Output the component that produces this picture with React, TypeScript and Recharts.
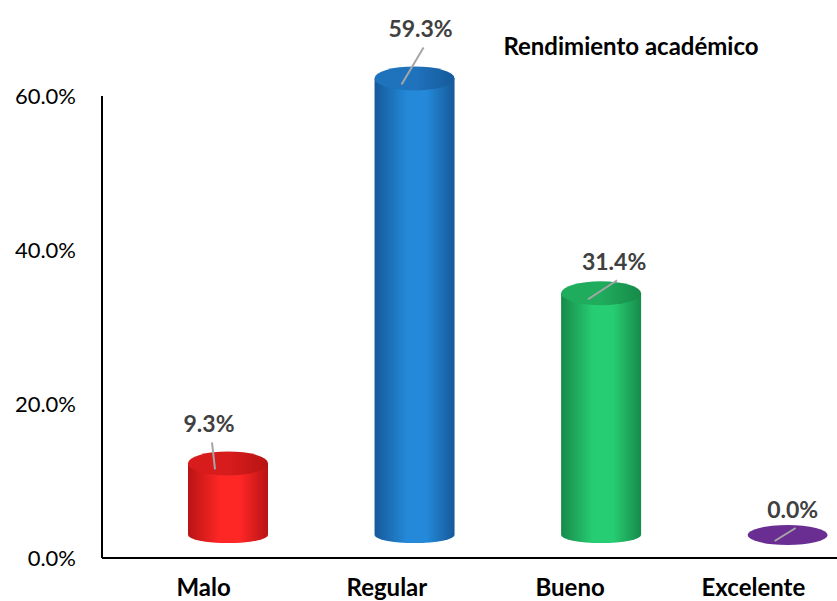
import React from 'react';
import { BarChart, Bar, XAxis, YAxis } from 'recharts';

// Rendimiento académico — cylinder bars
const categories = ['Malo', 'Regular', 'Bueno', 'Excelente'];
const values = [0.093, 0.593, 0.314, 0.0];
const yTicks = [0, 0.2, 0.4, 0.6];
const title = 'Rendimiento académico';

const data = categories.map((name, i) => ({ name, value: values[i] }));

const FONT = 'Lato, "Open Sans", sans-serif';

const palette = [
  { dark: '#b81414', mid: '#ff2626', top: '#d81c1c' },
  { dark: '#15599a', mid: '#2489d8', top: '#1f73bd' },
  { dark: '#178a4a', mid: '#27cd72', top: '#1fac5d' },
  { dark: '#5a2580', mid: '#7336a0', top: '#6a2e93' },
];

// label offset from cylinder top centre (Excel callouts)
const calloutOffset = [
  [-19, -39],
  [6, -49],
  [13, -31],
  [5, -25],
];

const fmt = (v: number) => `${(v * 100).toFixed(1)}%`;

const Cylinder = (props: any) => {
  const { x, y, width, height, index, value } = props;
  const c = palette[index];
  const depth = 23;
  const off = 24 + index * 3.3;
  const cx = x + width / 2 + off;
  const rx = width / 2;
  const baseY = y + height - depth;
  const topY = y - depth;
  const ryTop = 12;
  const ryBot = 8;
  const flat = height < 1;
  const [tdx, tdy] = calloutOffset[index];
  const anchorY = flat ? baseY : topY;
  const tx = cx + tdx;
  const ty = anchorY + tdy;

  return (
    <g>
      <defs>
        <linearGradient id={`side${index}`} x1="0" y1="0" x2="1" y2="0">
          <stop offset="0%" stopColor={c.dark} />
          <stop offset="40%" stopColor={c.mid} />
          <stop offset="65%" stopColor={c.mid} />
          <stop offset="100%" stopColor={c.dark} />
        </linearGradient>
        <linearGradient id={`top${index}`} x1="0" y1="0" x2="1" y2="0">
          <stop offset="0%" stopColor={c.top} />
          <stop offset="50%" stopColor={c.top} />
          <stop offset="100%" stopColor={c.dark} />
        </linearGradient>
      </defs>
      {flat ? (
        <ellipse cx={cx} cy={baseY} rx={rx} ry={10} fill={c.top} />
      ) : (
        <>
          <path
            d={`M${cx - rx},${topY} L${cx - rx},${baseY} A${rx},${ryBot} 0 0 0 ${cx + rx},${baseY} L${cx + rx},${topY} Z`}
            fill={`url(#side${index})`}
          />
          <ellipse cx={cx} cy={topY} rx={rx} ry={ryTop} fill={`url(#top${index})`} />
        </>
      )}
      <line x1={tx + 3} y1={ty + 18} x2={cx - 13} y2={anchorY + 6} stroke="#a6a6a6" strokeWidth={2} />
      <text
        x={tx}
        y={ty}
        dy="0.35em"
        textAnchor="middle"
        fontFamily={FONT}
        fontWeight={700}
        fontSize={23}
        fill="#404040"
      >
        {fmt(value)}
      </text>
    </g>
  );
};

export default function App() {
  return (
    <div style={{ position: 'absolute', left: 0, top: 0, width: 837, height: 601, background: '#fff', overflow: 'hidden' }}>
      <BarChart
        width={837}
        height={601}
        data={data}
        margin={{ top: 96, right: -8, bottom: 0, left: 0 }}
        barSize={80}
      >
        <XAxis
          dataKey="name"
          height={43}
          padding={{ left: 10, right: 0 }}
          tickLine={false}
          tickMargin={15}
          axisLine={{ stroke: '#000', strokeWidth: 2 }}
          tick={{ fill: '#000', fontFamily: FONT, fontWeight: 700, fontSize: 24 }}
          interval={0}
        />
        <YAxis
          width={102}
          domain={[0, 0.6]}
          ticks={yTicks}
          tickFormatter={fmt}
          tickLine={false}
          tickMargin={20}
          axisLine={{ stroke: '#000', strokeWidth: 2 }}
          tick={{ fill: '#000', fontFamily: FONT, fontSize: 22 }}
        />
        <Bar dataKey="value" shape={Cylinder} isAnimationActive={false} />
        <text x={631} y={47} dy="0.35em" textAnchor="middle" fontFamily={FONT} fontWeight={700} fontSize={24} fill="#000">
          {title}
        </text>
      </BarChart>
    </div>
  );
}
